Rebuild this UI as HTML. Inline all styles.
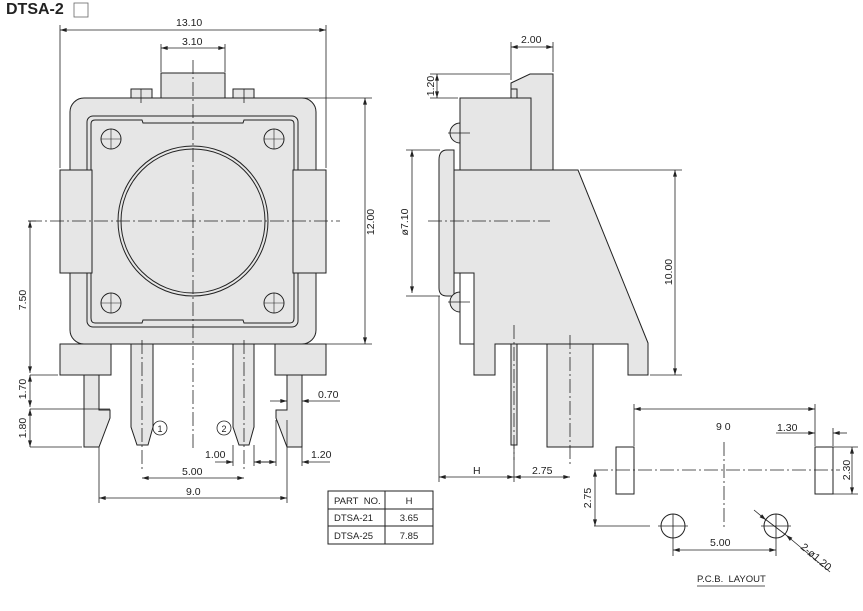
<!DOCTYPE html>
<html><head><meta charset="utf-8"><style>
html,body{margin:0;padding:0;background:#fff}
svg{display:block}
text{font-family:"Liberation Sans Narrow","Liberation Sans",sans-serif;font-size:10.5px;fill:#222}
.d{marker-start:url(#a);marker-end:url(#a)}
.e{marker-end:url(#a)}
</style></head><body>
<svg width="863" height="611" viewBox="0 0 863 611" xmlns="http://www.w3.org/2000/svg">
<defs>
<marker id="a" viewBox="0 0 10 6" refX="10" refY="3" markerUnits="userSpaceOnUse" markerWidth="8" markerHeight="4" orient="auto-start-reverse"><path d="M0,0L10,3L0,6z" fill="#222"/></marker>
</defs>
<text x="6" y="14" style="font-family:'Liberation Sans',sans-serif;font-weight:bold;font-size:16px">DTSA-2</text>
<rect x="74" y="3" width="14" height="14" fill="#fff" stroke="#666" stroke-width="0.8"/>

<g stroke="#222" stroke-width="1" fill="#e6e6e6">
<rect x="161" y="73" width="64" height="26"/>
<rect x="131" y="89" width="21" height="10"/>
<rect x="233" y="89" width="21" height="10"/>
<path d="M60,344V375H111V344Z"/>
<path d="M275,344V375H326V344Z"/>
<path d="M84,375V447H99L110,418V410H99V375Z"/>
<path d="M302,375V447H287L276,418V410H287V375Z"/>
<path d="M131,344V427L137,445H148L153,427V344Z"/>
<path d="M233,344V427L239,445H249L254,427V344Z"/>
<rect x="70" y="98" width="246" height="246" rx="14"/>
<rect x="87" y="116" width="211" height="211" rx="6"/>
<path d="M91,124Q91,120 95,120H142L143,123H243L244,120H290Q294,120 294,124V318Q294,323 290,323H244L243,320H143L142,323H95Q91,323 91,318Z"/>
<rect x="60" y="170" width="32" height="103"/>
<rect x="293" y="170" width="33" height="103"/>
<circle cx="193" cy="221" r="75"/>
<circle cx="193" cy="221" r="72"/>
<g fill="none">
<circle cx="111" cy="139" r="10"/><circle cx="274" cy="139" r="10"/>
<circle cx="111" cy="303" r="10"/><circle cx="274" cy="303" r="10"/>
</g>
<path d="M511,83L530,74H553V170H511Z"/>
<rect x="511" y="89" width="6" height="10"/>
<rect x="460" y="98" width="71" height="72"/>
<path d="M439,160Q439,150 447,150H454V296H447Q439,296 439,288Z"/>
<path d="M450,133A10,10 0 0 1 460,123V143A10,10 0 0 1 450,133Z"/>
<path d="M450,302A10,10 0 0 1 460,292V312A10,10 0 0 1 450,302Z"/>
<rect x="511" y="337" width="6" height="108"/>
<rect x="547" y="337" width="46" height="110"/>
<path d="M454,170H578L648,343V375H628V344H495V375H474V273H454Z"/>
<path d="M460,273V344H474" fill="none"/>
<rect x="616" y="447" width="18" height="47" fill="none"/>
<rect x="815" y="447" width="18" height="47" fill="none"/>
<circle cx="673" cy="526" r="12" fill="none"/>
<circle cx="776" cy="526" r="12" fill="none"/>
</g>

<g stroke="#222" stroke-width="0.8" fill="none" stroke-dasharray="14,3,2,3">
<path d="M28,221H340M193,60V450M428,221H550M594,470H840M724,442V530"/>
<path d="M142,340V470M244,340V470M514,325V460M570,335V465"/>
<path d="M141,89V104M244,89V104"/>
</g>
<g stroke="#222" stroke-width="0.8" fill="none">
<path d="M101,139H121M111,129V149M264,139H284M274,129V149M101,303H121M111,293V313M264,303H284M274,293V313" stroke-width="0.6"/>
<path d="M448,133H470M448,302H470"/>
<path d="M658,526H688M673,514V540M761,526H791M776,514V540"/>
</g>

<g stroke="#222" stroke-width="0.8" fill="none">
<path d="M60,25V168M326,25V168M161,44V72M225,44V72"/>
<path d="M300,98H372M300,344H372M28,221H36M30,375H58M30,409H110M30,447H82"/>
<path d="M99,447V503M287,420V503M233,445V466M254,445V466M276,420V466M302,390V466"/>
<path d="M511,42V80M553,42V72M430,74H510M430,98H458M440,150H406M440,296H406M580,170H682M650,375H682M439,296V482M514,445V482"/>
<path d="M634,404V446M815,404V446M833,428V446M833,447H858M833,494H858M594,526H650M673,540V556M776,540V556"/>
<path class="d" d="M60,30H326"/>
<path class="d" d="M161,48H225"/>
<path class="d" d="M365,98V344"/>
<path class="d" d="M30,221V373"/>
<path class="d" d="M30,375V407"/>
<path class="d" d="M30,409V447"/>
<path class="d" d="M142,478H244"/>
<path class="d" d="M99,498H287"/>
<path class="d" d="M511,47H553"/>
<path class="d" d="M437,74V98"/>
<path class="d" d="M412,150V293"/>
<path class="d" d="M675,170V375"/>
<path class="d" d="M439,477H514"/>
<path class="d" d="M514,477H570"/>
<path class="d" d="M634,409H815"/>
<path class="d" d="M852,447V494"/>
<path class="d" d="M595,470V526"/>
<path class="d" d="M673,550H776"/>
<path class="e" d="M270,401H287"/>
<path class="e" d="M340,401H302"/>
<path class="e" d="M215,462H233"/>
<path class="e" d="M270,462H254"/>
<path class="e" d="M260,462H276"/>
<path class="e" d="M330,462H302"/>
<path class="e" d="M776,433H815"/>
<path class="e" d="M847,433H833"/>
<path class="e" d="M754,510L766,520"/>
<path class="e" d="M830,572L786,535"/>
<path d="M765,519L786,535"/>
<circle cx="160" cy="428" r="7"/>
<circle cx="224" cy="428" r="7"/>
</g>

<text x="176" y="26">13.10</text>
<text x="182" y="45">3.10</text>
<text x="374" y="222" transform="rotate(-90 374 222)" text-anchor="middle">12.00</text>
<text x="26" y="300" transform="rotate(-90 26 300)" text-anchor="middle">7.50</text>
<text x="26" y="389" transform="rotate(-90 26 389)" text-anchor="middle">1.70</text>
<text x="26" y="428" transform="rotate(-90 26 428)" text-anchor="middle">1.80</text>
<text x="160" y="432" text-anchor="middle" style="font-size:9px">1</text>
<text x="224" y="432" text-anchor="middle" style="font-size:9px">2</text>
<text x="318" y="398">0.70</text>
<text x="205" y="458">1.00</text>
<text x="311" y="458">1.20</text>
<text x="182" y="475">5.00</text>
<text x="186" y="495">9.0</text>
<text x="521" y="43">2.00</text>
<text x="434" y="86" transform="rotate(-90 434 86)" text-anchor="middle">1.20</text>
<text x="408" y="222" transform="rotate(-90 408 222)" text-anchor="middle">ø7.10</text>
<text x="672" y="272" transform="rotate(-90 672 272)" text-anchor="middle">10.00</text>
<text x="473" y="474">H</text>
<text x="532" y="474">2.75</text>
<text x="716" y="430">9 0</text>
<text x="777" y="431">1.30</text>
<text x="850" y="470" transform="rotate(-90 850 470)" text-anchor="middle">2.30</text>
<text x="591" y="498" transform="rotate(-90 591 498)" text-anchor="middle">2.75</text>
<text x="710" y="546">5.00</text>
<text x="800" y="548" transform="rotate(40 800 548)">2-ø1.20</text>
<text x="697" y="582" style="font-size:9.5px">P.C.B.&#160;&#160;LAYOUT</text>
<path d="M697,586H765" stroke="#222" stroke-width="0.8"/>

<g stroke="#222" stroke-width="1" fill="none">
<rect x="328" y="491" width="105" height="53"/>
<path d="M328,509H433M328,526H433M385,491V544"/>
</g>
<text x="334" y="504" style="font-size:9.5px">PART&#160;&#160;NO.</text>
<text x="409" y="504" text-anchor="middle" style="font-size:9.5px">H</text>
<text x="334" y="521" style="font-size:9.5px">DTSA-21</text>
<text x="409" y="521" text-anchor="middle" style="font-size:9.5px">3.65</text>
<text x="334" y="539" style="font-size:9.5px">DTSA-25</text>
<text x="409" y="539" text-anchor="middle" style="font-size:9.5px">7.85</text>
</svg>
</body></html>
